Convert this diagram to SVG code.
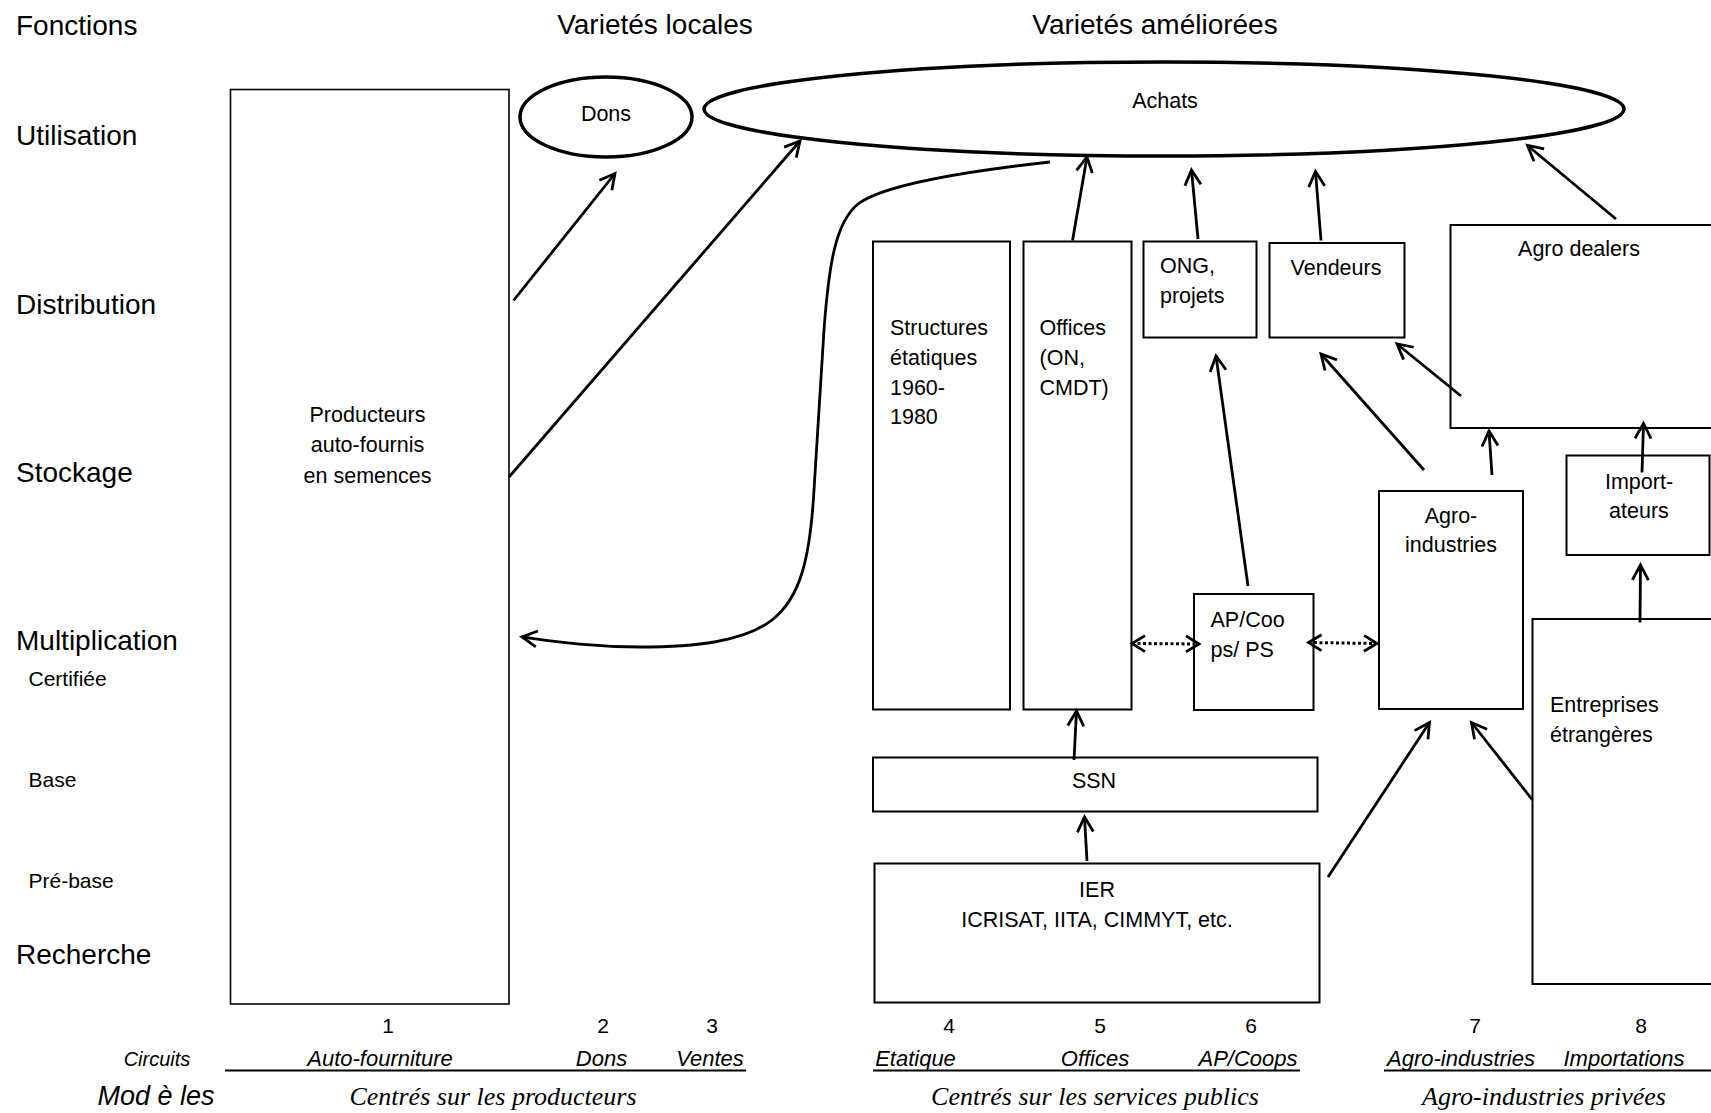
<svg xmlns="http://www.w3.org/2000/svg" width="1711" height="1113" viewBox="0 0 1711 1113">
<style>
text{font-family:"Liberation Sans",Arial,sans-serif;fill:#000}
.big{font-size:28px}
.sm{font-size:21px}
.nt{font-size:21.5px}
.num{font-size:21px;text-anchor:middle}
.it{font-size:22px;font-style:italic;text-anchor:middle}
.ser{font-family:"Liberation Serif","Times New Roman",serif;font-size:26px;font-style:italic;text-anchor:middle}
.mid{text-anchor:middle}
.box{fill:#fff;stroke:#000;stroke-width:2}
.ell{fill:#fff;stroke:#000;stroke-width:3.5}
.arr{fill:none;stroke:#000;stroke-width:2.8;marker-end:url(#ah)}
.dot{fill:none;stroke:#000;stroke-width:3;stroke-dasharray:3 2.5;marker-start:url(#ah2);marker-end:url(#ah2)}
.ul{stroke:#000;stroke-width:2}
</style>
<defs>
<marker id="ah" viewBox="-18 -10 20 20" refX="0" refY="0" markerWidth="20" markerHeight="20" markerUnits="userSpaceOnUse" orient="auto" overflow="visible">
<path d="M-15,-8 L0,0 L-15,8" fill="none" stroke="#000" stroke-width="2.8"/>
</marker>
<marker id="ah2" viewBox="-18 -10 20 20" refX="0" refY="0" markerWidth="20" markerHeight="20" markerUnits="userSpaceOnUse" orient="auto-start-reverse" overflow="visible">
<path d="M-13,-8 L0,0 L-13,8" fill="none" stroke="#000" stroke-width="2.8"/>
</marker>
</defs>
<rect width="1711" height="1113" fill="#fff"/>

<g id="labels">
<text class="big" x="16" y="35">Fonctions</text>
<text class="big" x="16" y="145">Utilisation</text>
<text class="big" x="16" y="314">Distribution</text>
<text class="big" x="16" y="482">Stockage</text>
<text class="big" x="16" y="650">Multiplication</text>
<text class="sm" x="28.5" y="686">Certifiée</text>
<text class="sm" x="28.5" y="787">Base</text>
<text class="sm" x="28.5" y="888">Pré-base</text>
<text class="big" x="16" y="964">Recherche</text>
<text class="big mid" x="655" y="34">Varietés locales</text>
<text class="big mid" x="1155" y="34">Varietés améliorées</text>
</g>

<g id="node-producteurs">
<rect class="box" x="230.5" y="89.5" width="278.5" height="914.5" style="stroke-width:1.6"/>
<text class="nt mid" x="367.5" y="422">Producteurs</text>
<text class="nt mid" x="367.5" y="452">auto-fournis</text>
<text class="nt mid" x="367.5" y="483">en semences</text>
</g>

<g id="node-dons">
<ellipse class="ell" cx="606" cy="117" rx="86" ry="40"/>
<text class="nt mid" x="606" y="121">Dons</text>
</g>

<g id="node-achats">
<ellipse class="ell" cx="1164" cy="109" rx="460" ry="47"/>
<text class="nt mid" x="1165" y="108">Achats</text>
</g>

<g id="node-structures">
<rect class="box" x="873" y="241.5" width="137" height="468"/>
<text class="nt" x="890" y="335">Structures</text>
<text class="nt" x="890" y="365">étatiques</text>
<text class="nt" x="890" y="395">1960-</text>
<text class="nt" x="890" y="424">1980</text>
</g>

<g id="node-offices">
<rect class="box" x="1023.5" y="241.5" width="108" height="468"/>
<text class="nt" x="1039.5" y="335">Offices</text>
<text class="nt" x="1039.5" y="365">(ON,</text>
<text class="nt" x="1039.5" y="395">CMDT)</text>
</g>

<g id="node-ong">
<rect class="box" x="1143.5" y="241.5" width="113" height="96"/>
<text class="nt" x="1160" y="273">ONG,</text>
<text class="nt" x="1160" y="303">projets</text>
</g>

<g id="node-vendeurs">
<rect class="box" x="1269.5" y="243" width="135" height="94.5"/>
<text class="nt mid" x="1336" y="275">Vendeurs</text>
</g>

<g id="node-agrodealers">
<rect class="box" x="1450.5" y="225" width="275" height="203"/>
<text class="nt mid" x="1579" y="256">Agro dealers</text>
</g>

<g id="node-apcoops">
<rect class="box" x="1194" y="594" width="119.5" height="116"/>
<text class="nt" x="1210.5" y="627">AP/Coo</text>
<text class="nt" x="1210.5" y="657">ps/ PS</text>
</g>

<g id="node-agroindustries">
<rect class="box" x="1379" y="491" width="144" height="218"/>
<text class="nt mid" x="1451" y="523">Agro-</text>
<text class="nt mid" x="1451" y="552">industries</text>
</g>

<g id="node-importateurs">
<rect class="box" x="1566.5" y="455.5" width="143" height="99.5"/>
<text class="nt mid" x="1639" y="489">Import-</text>
<text class="nt mid" x="1639" y="518">ateurs</text>
</g>

<g id="node-entreprises">
<rect class="box" x="1532.5" y="619" width="195" height="365"/>
<text class="nt" x="1550" y="712">Entreprises</text>
<text class="nt" x="1550" y="742">étrangères</text>
</g>

<g id="node-ssn">
<rect class="box" x="873" y="757.5" width="444.5" height="54"/>
<text class="nt mid" x="1094" y="788">SSN</text>
</g>

<g id="node-ier">
<rect class="box" x="874.5" y="863.5" width="445" height="139"/>
<text class="nt mid" x="1097" y="897">IER</text>
<text class="nt mid" x="1097" y="927">ICRISAT, IITA, CIMMYT, etc.</text>
</g>

<g id="connectors">
<line class="arr" x1="513.5" y1="300.5" x2="615" y2="173.5"/>
<line class="arr" x1="509" y1="477" x2="800" y2="141"/>
<path class="arr" d="M1050,162 C960,172 882,186 858,204 C836,222 829,262 824,330 L814,490 C810,560 800,598 772,620 C744,642 694,647 640,647 C590,647 552,641 522,637"/>
<line class="arr" x1="1072.5" y1="240.5" x2="1087" y2="157"/>
<line class="arr" x1="1198" y1="239" x2="1191.5" y2="170"/>
<line class="arr" x1="1321" y1="240.5" x2="1315.5" y2="171.5"/>
<line class="arr" x1="1616" y1="219" x2="1527.5" y2="145.5"/>
<line class="arr" x1="1248" y1="586" x2="1216" y2="356"/>
<line class="arr" x1="1424" y1="470" x2="1321" y2="354"/>
<line class="arr" x1="1461" y1="396" x2="1397" y2="344"/>
<line class="arr" x1="1492" y1="475" x2="1489" y2="431"/>
<line class="arr" x1="1642" y1="472.5" x2="1643.5" y2="423.5"/>
<line class="arr" x1="1640" y1="622.5" x2="1640.5" y2="565"/>
<line class="arr" x1="1328" y1="877" x2="1429.5" y2="722.5"/>
<line class="arr" x1="1532.5" y1="800" x2="1471.5" y2="722.5"/>
<line class="arr" x1="1074" y1="760" x2="1076.5" y2="711"/>
<line class="arr" x1="1087" y1="861" x2="1084.5" y2="817"/>
<line class="dot" x1="1132" y1="643.5" x2="1199" y2="644"/>
<line class="dot" x1="1308.5" y1="642.5" x2="1377" y2="643.5"/>
</g>

<g id="footer">
<text class="num" x="388" y="1033">1</text>
<text class="num" x="603" y="1033">2</text>
<text class="num" x="712" y="1033">3</text>
<text class="num" x="949" y="1033">4</text>
<text class="num" x="1100" y="1033">5</text>
<text class="num" x="1251" y="1033">6</text>
<text class="num" x="1475" y="1033">7</text>
<text class="num" x="1641" y="1033">8</text>
<text class="it" x="157" y="1066" style="font-size:20px">Circuits</text>
<text class="it" x="380" y="1066">Auto-fourniture</text>
<text class="it" x="601.5" y="1066">Dons</text>
<text class="it" x="710" y="1066">Ventes</text>
<text class="it" x="915.5" y="1066">Etatique</text>
<text class="it" x="1095" y="1066">Offices</text>
<text class="it" x="1248" y="1066">AP/Coops</text>
<text class="it" x="1461" y="1066">Agro-industries</text>
<text class="it" x="1624" y="1066">Importations</text>
<line class="ul" x1="225" y1="1070.5" x2="746" y2="1070.5"/>
<line class="ul" x1="873" y1="1070.5" x2="1300" y2="1070.5"/>
<line class="ul" x1="1384" y1="1070.5" x2="1711" y2="1070.5"/>
<text x="97.5" y="1105" style="font-size:27px;font-style:italic">Mod è les</text>
<text class="ser" x="493" y="1105">Centrés sur les producteurs</text>
<text class="ser" x="1095" y="1105">Centrés sur les services publics</text>
<text class="ser" x="1544" y="1105">Agro-industries privées</text>
</g>
</svg>
